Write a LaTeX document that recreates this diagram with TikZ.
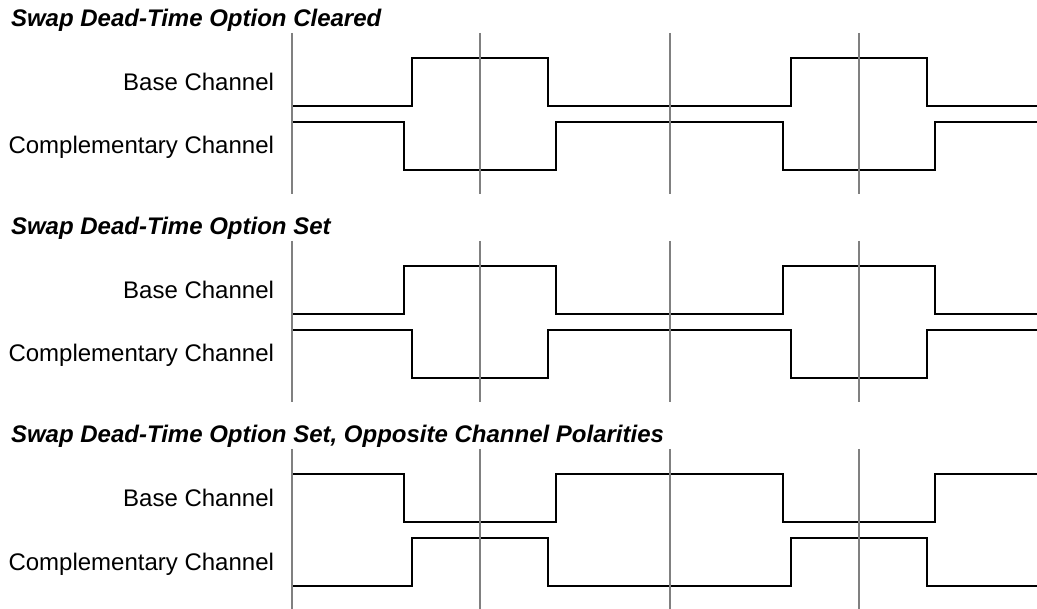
\documentclass[tikz,border=0pt]{standalone}
\usepackage{fontspec}
\setmainfont{Liberation Sans}
\definecolor{gridgray}{HTML}{808080}

\begin{document}
\begin{tikzpicture}[x=1pt, y=-1pt, line width=2pt]
\useasboundingbox (0,0) rectangle (1037,609);

\tikzstyle{every node}=[inner sep=0pt, font=\fontsize{24}{28}\selectfont]
\tikzstyle{title}=[anchor=base west, font=\fontsize{24}{28}\selectfont\bfseries\itshape]
\tikzstyle{chan}=[anchor=base east]
\tikzstyle{wave}=[draw=black, line join=miter]
\tikzstyle{tick}=[draw=gridgray]

% swap cleared
\node[title] (clrtitle) at (10,27) {Swap Dead-Time Option Cleared};
\node[chan] (clrbase) at (275,91) {Base Channel};
\node[chan] (clrcomp) at (275,154) {Complementary Channel};
\draw[wave] (292,106) -- (412,106) -- (412,58) -- (548,58) -- (548,106) -- (791,106)
            -- (791,58) -- (927,58) -- (927,106) -- (1037,106);
\draw[wave] (292,122) -- (404,122) -- (404,170) -- (556,170) -- (556,122) -- (783,122)
            -- (783,170) -- (935,170) -- (935,122) -- (1037,122);
\draw[tick] (292,33) -- (292,194)  (480,33) -- (480,194)
            (670,33) -- (670,194)  (859,33) -- (859,194);

% swap set
\begin{scope}[shift={(0,208)}]
\node[title] (settitle) at (10,27) {Swap Dead-Time Option Set};
\node[chan] (setbase) at (275,91) {Base Channel};
\node[chan] (setcomp) at (275,154) {Complementary Channel};
\draw[wave] (292,106) -- (404,106) -- (404,58) -- (556,58) -- (556,106) -- (783,106)
            -- (783,58) -- (935,58) -- (935,106) -- (1037,106);
\draw[wave] (292,122) -- (412,122) -- (412,170) -- (548,170) -- (548,122) -- (791,122)
            -- (791,170) -- (927,170) -- (927,122) -- (1037,122);
\draw[tick] (292,33) -- (292,194)  (480,33) -- (480,194)
            (670,33) -- (670,194)  (859,33) -- (859,194);
\end{scope}

% swap set, opposite polarities
\begin{scope}[shift={(0,416)}]
\node[title] (opptitle) at (10,27) {Swap Dead-Time Option Set, Opposite Channel Polarities};
\node[chan] (oppbase) at (275,91) {Base Channel};
\node[chan] (oppcomp) at (275,154) {Complementary Channel};
\draw[wave] (292,58) -- (404,58) -- (404,106) -- (556,106) -- (556,58) -- (783,58)
            -- (783,106) -- (935,106) -- (935,58) -- (1037,58);
\draw[wave] (292,170) -- (412,170) -- (412,122) -- (548,122) -- (548,170) -- (791,170)
            -- (791,122) -- (927,122) -- (927,170) -- (1037,170);
\draw[tick] (292,33) -- (292,194)  (480,33) -- (480,194)
            (670,33) -- (670,194)  (859,33) -- (859,194);
\end{scope}

\end{tikzpicture}
\end{document}
